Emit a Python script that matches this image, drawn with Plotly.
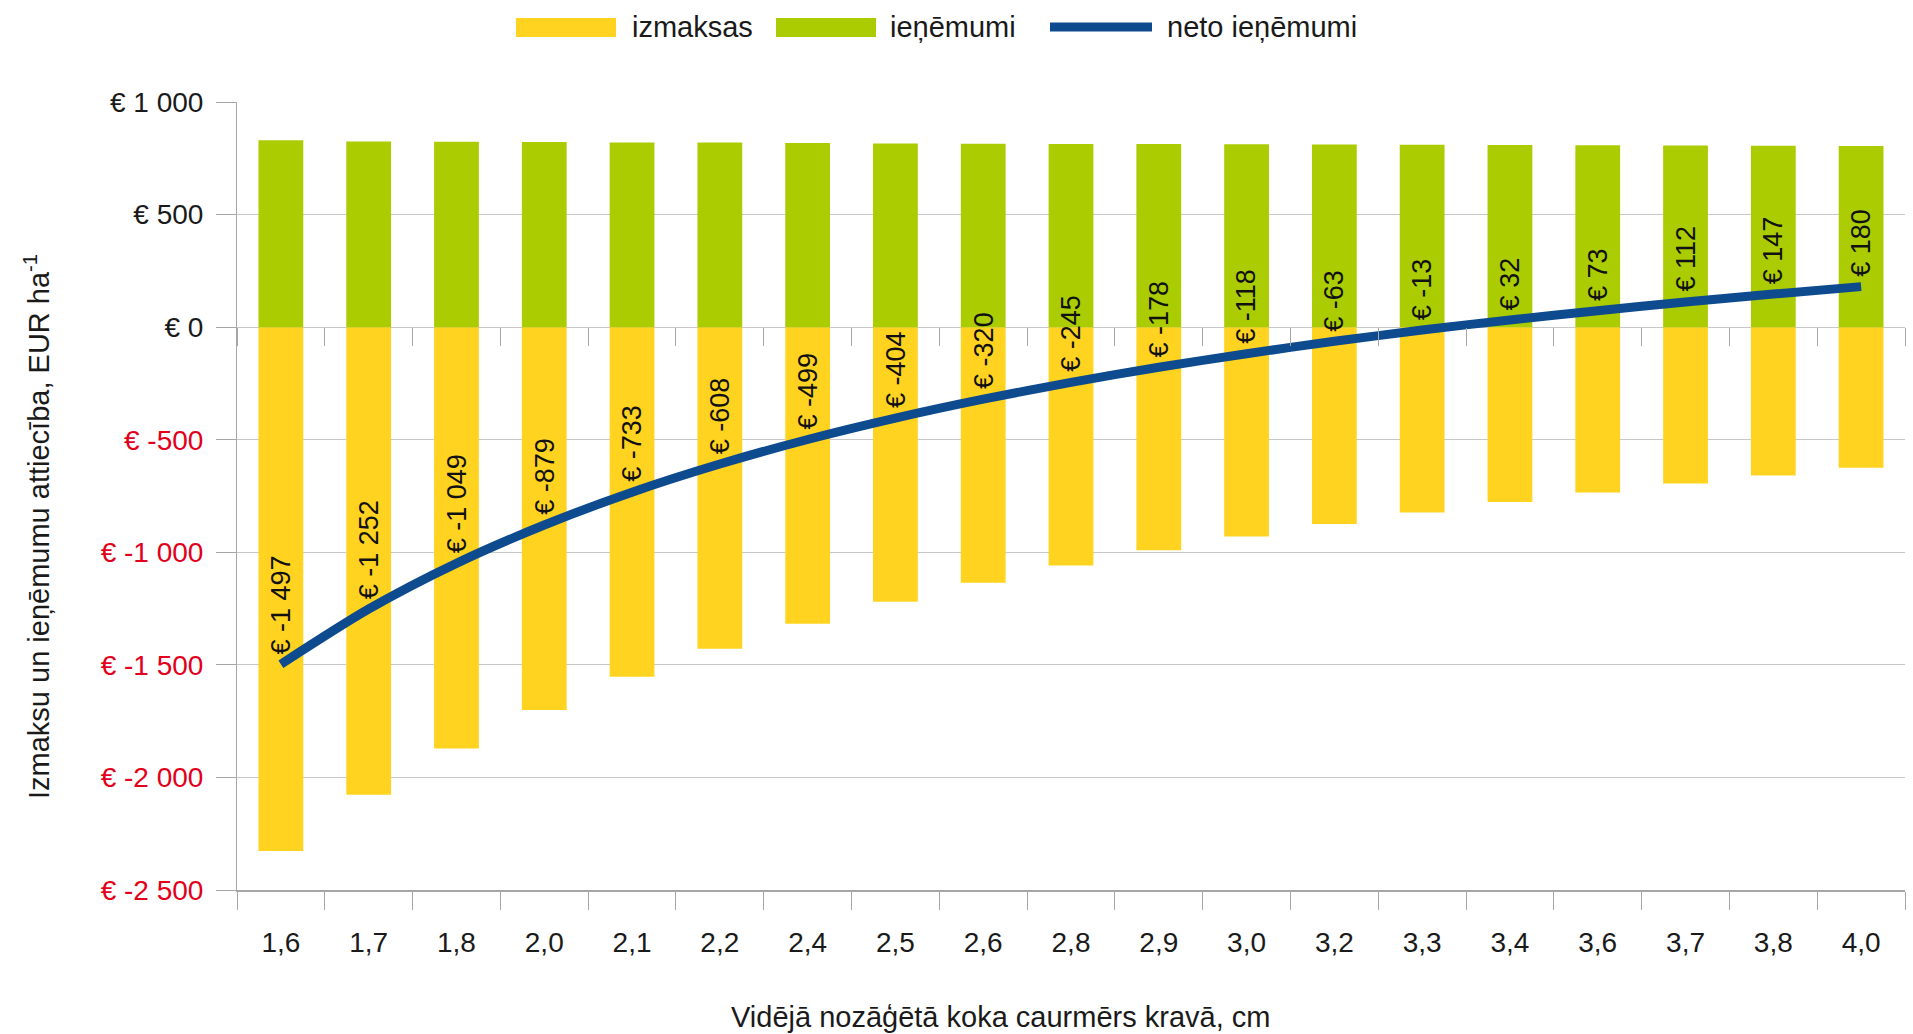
import numpy as np
import plotly.graph_objects as go

# ---------------- data ----------------
categories = ["1,6", "1,7", "1,8", "2,0", "2,1", "2,2", "2,4", "2,5", "2,6", "2,8",
              "2,9", "3,0", "3,2", "3,3", "3,4", "3,6", "3,7", "3,8", "4,0"]
izmaksas = [-2327, -2077, -1872, -1701, -1553, -1428, -1317, -1220, -1135, -1059,
            -991, -930, -874, -823, -777, -735, -695, -659, -625]
ienemumi = [830, 825, 823, 822, 820, 820, 818, 816, 815, 814,
            813, 812, 811, 810, 809, 808, 807, 806, 805]
neto = [-1497, -1252, -1049, -879, -733, -608, -499, -404, -320, -245,
        -178, -118, -63, -13, 32, 73, 112, 147, 180]
y_ticks = [1000, 500, 0, -500, -1000, -1500, -2000, -2500]

series_names = ["izmaksas", "ieņēmumi", "neto ieņēmumi"]
x_title = "Vidējā nozāģētā koka caurmērs kravā, cm"
y_title = "Izmaksu un ieņēmumu attiecība, EUR ha<sup>-1</sup>"

# ---------------- style ----------------
FONT = "Liberation Sans, Arial, sans-serif"
YELLOW = "#FFD320"
GREEN = "#AACC00"
BLUE = "#0D4B8E"
RED = "#E2001A"
TXT = "#1a1a1a"
GRID = "#C8C8C8"
AXIS = "#A6A6A6"

W, H = 1913, 1034
L, R, T, B = 237, 8, 102, 144
Y_MIN, Y_MAX = -2500, 1000


def eur(v):
    return "€ " + f"{v:,}".replace(",", " ")


def px(x):
    return (x - L) / (W - L - R)


def py(y):
    return (H - B - y) / (H - T - B)


ticktext = [eur(v) if v >= 0 else f'<span style="color:{RED}">{eur(v)}</span>' for v in y_ticks]

fig = go.Figure()
fig.add_trace(go.Bar(x=categories, y=izmaksas, name=series_names[0],
                     marker=dict(color=YELLOW, line=dict(width=0))))
fig.add_trace(go.Bar(x=categories, y=ienemumi, name=series_names[1],
                     marker=dict(color=GREEN, line=dict(width=0))))
fig.add_trace(go.Scatter(x=categories, y=neto, name=series_names[2], mode="lines",
                         line=dict(color=BLUE, width=9, shape="spline", smoothing=0.8)))
# helper trace so the zero-line category tick axis is drawn
fig.add_trace(go.Scatter(x=list(range(len(categories))), y=neto, xaxis="x2",
                         mode="none", hoverinfo="skip", showlegend=False))

fig.update_layout(
    width=W, height=H,
    margin=dict(l=L, r=R, t=T, b=B),
    barmode="relative", bargap=0.49,
    plot_bgcolor="white", paper_bgcolor="white",
    showlegend=False,
    font=dict(family=FONT, color=TXT),
    xaxis=dict(type="category", categoryorder="array", categoryarray=categories,
               range=[-0.5, len(categories) - 0.5],
               tickson="boundaries", ticks="outside", ticklen=18, tickwidth=1,
               tickcolor=AXIS, showline=True, linecolor=AXIS, linewidth=2,
               showgrid=False, zeroline=False,
               tickfont=dict(size=28, color=TXT, family=FONT), ticklabelstandoff=26),
    xaxis2=dict(overlaying="x", anchor="free",
                position=(0 - Y_MIN) / (Y_MAX - Y_MIN), side="bottom",
                range=[-0.5, len(categories) - 0.5],
                tickvals=list(np.arange(-0.5, len(categories), 1.0)),
                ticks="outside", ticklen=18, tickwidth=1, tickcolor=AXIS,
                showticklabels=False, showgrid=False, showline=False, zeroline=False),
    yaxis=dict(range=[Y_MIN, Y_MAX], tickvals=y_ticks, ticktext=ticktext,
               ticks="outside", ticklen=20, tickwidth=1, tickcolor=AXIS,
               showgrid=True, gridcolor=GRID, gridwidth=1,
               zeroline=True, zerolinecolor=GRID, zerolinewidth=1,
               showline=True, linecolor=AXIS, linewidth=1,
               tickfont=dict(size=28, color=TXT, family=FONT), ticklabelstandoff=7),
)

annotations = []
# data labels for net revenue
for c, v in zip(categories, neto):
    annotations.append(dict(x=c, y=v, xref="x", yref="y", text=eur(v), textangle=-90,
                            xanchor="center", yanchor="bottom", yshift=8,
                            showarrow=False, font=dict(size=27, color="#111111", family=FONT)))
# axis titles
annotations.append(dict(x=px(1000), y=py(1017), xref="paper", yref="paper", text=x_title,
                        showarrow=False, xanchor="center", yanchor="middle",
                        font=dict(size=29, color=TXT, family=FONT)))
annotations.append(dict(x=px(37), y=py(527), xref="paper", yref="paper", text=y_title,
                        textangle=-90, showarrow=False, xanchor="center", yanchor="middle",
                        font=dict(size=29, color=TXT, family=FONT)))

# manual legend
shapes = []
legend_items = [
    (series_names[0], "rect", YELLOW, 516, 616, 630),
    (series_names[1], "rect", GREEN, 776, 876, 888),
    (series_names[2], "line", BLUE, 1050, 1152, 1165),
]
for name, kind, color, x0, x1, tx in legend_items:
    if kind == "rect":
        shapes.append(dict(type="rect", xref="paper", yref="paper",
                           x0=px(x0), x1=px(x1), y0=py(37), y1=py(18),
                           fillcolor=color, line=dict(width=0)))
    else:
        shapes.append(dict(type="line", xref="paper", yref="paper",
                           x0=px(x0), x1=px(x1), y0=py(27), y1=py(27),
                           line=dict(color=color, width=9)))
    annotations.append(dict(x=px(tx), y=py(27), xref="paper", yref="paper", text=name,
                            showarrow=False, xanchor="left", yanchor="middle",
                            font=dict(size=29, color=TXT, family=FONT)))

fig.update_layout(annotations=annotations, shapes=shapes)

fig.write_html("out.html", config={"displayModeBar": False},
               post_script="document.body.style.margin='0';")
